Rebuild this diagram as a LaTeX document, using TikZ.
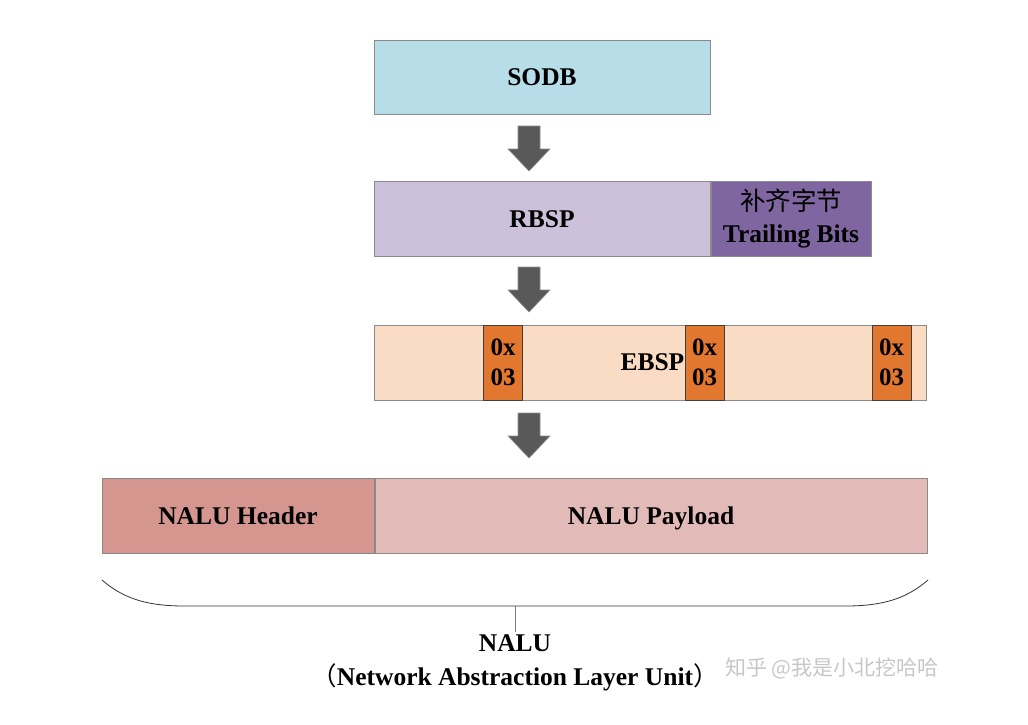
\documentclass[tikz,border=0pt]{standalone}
\usepackage{fontspec}
\setmainfont{Liberation Serif}
\newfontfamily\cjk{Noto Sans CJK SC}
\definecolor{sodbfill}{HTML}{B7DDE8}
\definecolor{rbspfill}{HTML}{CCC0DA}
\definecolor{trailfill}{HTML}{7F66A0}
\definecolor{ebspfill}{HTML}{FADBC4}
\definecolor{orangefill}{HTML}{E2782F}
\definecolor{hdrfill}{HTML}{D4968F}
\definecolor{payfill}{HTML}{E2BAB7}
\definecolor{arrowfill}{HTML}{595959}
\definecolor{boxline}{HTML}{8A8A8A}
\tikzset{
  box/.style={draw=boxline, line width=1pt, inner sep=0pt, text height=17pt, text depth=0pt, font=\fontsize{25.5}{29}\selectfont\bfseries},
  hexbox/.style={draw=black!75, line width=1pt, fill=orangefill, inner sep=0pt, minimum width=39pt, minimum height=75pt, align=center, font=\fontsize{25}{30}\selectfont\bfseries},
  lbl/.style={inner sep=0pt, font=\fontsize{25.5}{30}\selectfont\bfseries},
  bigarrow/.pic={\filldraw[fill=arrowfill, draw=black!45, line width=0.6pt]
     (-11,0) -- (11,0) -- (11,23) -- (21,23) -- (0,45) -- (-21,23) -- (-11,23) -- cycle;}
}
\begin{document}
\begin{tikzpicture}[x=1pt,y=-1pt]
\useasboundingbox (0,0) rectangle (1028,724);
% SODB
\node[box, fill=sodbfill, minimum width=336pt, minimum height=74pt] (sodb) at (542,77) {SODB};
\pic at (529,126) {bigarrow};
% RBSP
\node[box, fill=rbspfill, minimum width=336pt, minimum height=75pt] (rbsp) at (542,218.5) {RBSP};
\node[draw=boxline, line width=1pt, inner sep=0pt, fill=trailfill, minimum width=160pt, minimum height=75pt, anchor=west, align=center, font=\fontsize{25.5}{32}\selectfont\bfseries] (trail) at (rbsp.east) {{\cjk\mdseries 补齐字节}\\Trailing Bits};
\pic at (529,267) {bigarrow};
% EBSP
\node[box, fill=ebspfill, minimum width=552pt, minimum height=75pt] (ebsp) at (650,362.5) {};
\node[hexbox] (h1) at (503,362.5) {0x\\03};
\node[hexbox] (h2) at (704.5,362.5) {0x\\03};
\node[hexbox] (h3) at (891.5,362.5) {0x\\03};
\node[lbl, anchor=east] (ebsplbl) at (h2.west |- 0,362) {EBSP};
\pic at (529,413) {bigarrow};
% NALU
\node[box, fill=hdrfill, minimum width=272pt, minimum height=75pt] (hdr) at (238,515.5) {NALU Header};
\node[box, fill=payfill, minimum width=552pt, minimum height=75pt, anchor=west] (pay) at (hdr.east) {NALU Payload};
% brace
\coordinate (bl) at (102,580);
\coordinate (br) at (928,580);
\coordinate (bm) at (515,606);
\coordinate (bt) at (515,632);
\draw[black!80, line width=0.8pt] (bl) .. controls (125,600) and (150,606) .. (185,606) -- (845,606) .. controls (880,606) and (905,600) .. (br);
\draw[black!50, line width=0.8pt] (bm) -- (bt);
\node[lbl] (nalu) at (515,643) {NALU};
\node[lbl] (full) at (515,677) {{\cjk\mdseries （}Network Abstraction Layer Unit{\cjk\mdseries ）}};
% watermark
\node[inner sep=0pt, text=black!22, font=\cjk\fontsize{21}{25}\selectfont] (wm) at (832,668) {知乎 @我是小北挖哈哈};
\end{tikzpicture}
\end{document}
